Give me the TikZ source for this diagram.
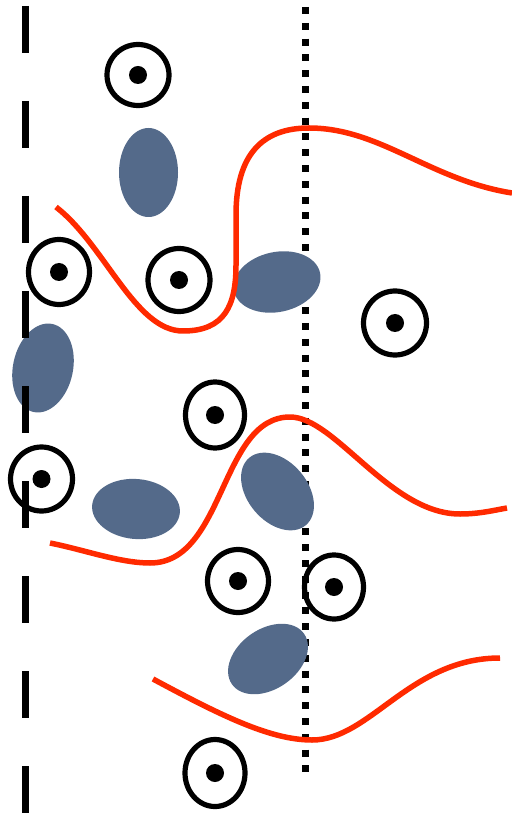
\documentclass[tikz,border=0pt]{standalone}
\usepackage{tikz}
\definecolor{blob}{HTML}{546A8A}
\definecolor{wave}{HTML}{FF2A00}
\tikzset{ring/.style={black,line width=2.6pt},
	wavy/.style={wave,line width=2.75pt},
	wall/.style={black,line width=3.5pt,dash pattern=on 23.5pt off 24pt},
	probe/.style={black,line width=3.5pt,dash pattern=on 3.5pt off 4.4pt}}
\begin{document}
\begin{tikzpicture}[x=0.5pt,y=-0.5pt,line join=round]
				\useasboundingbox (0,0) rectangle (512,817);
				\coordinate (W1) at (25,6);
				\coordinate (W2) at (25,817);
				\coordinate (P1) at (305.5,7);
				\coordinate (P2) at (305.5,773);
				\draw[probe] (P1)--(P2);
				\foreach \x/\y/\a/\b/\r in {148.5/172.5/29.5/44.5/0, 277/282/44/30/12, 43/368/30/45/-12, 136/509/44/30/-5, 277.5/491.5/44/30/-50, 268/659/44/30/35}{\fill[blob,rotate around={\r:(\x,\y)}] (\x,\y) ellipse [x radius=\a,y radius=\b];}
				\draw[wavy] (56,207) .. controls (105,245) and (135,331) .. (183,331) .. controls (225,331) and (236,305) .. (236,265) -- (236,215) .. controls (236,155) and (262,128) .. (309,128) .. controls (380,128) and (430,180) .. (512,193);
				\draw[wavy] (50,543) .. controls (85,550) and (120,563) .. (150,563) .. controls (225,563) and (220,417) .. (290,417) .. controls (335,417) and (390,514) .. (460,514) .. controls (480,514) and (495,510) .. (507,508);
				\draw[wavy] (153,679) .. controls (220,715) and (270,740) .. (312,740) .. controls (370,740) and (410,658) .. (500,658);
				\foreach \x/\y/\a/\b in {138/75/31/30.5, 59/272/30.5/32.5, 179/280/31/31.5, 395/323/31.5/32, 215/415/29.5/33, 41.5/479/31/32, 238/581/30.5/31.5, 334/587/29.5/32, 215/773/30/33.5}{\draw[ring] (\x,\y) ellipse [x radius=\a,y radius=\b]; \fill (\x,\y) circle (9);}
				\draw[wall] (W1)--(W2);
			\end{tikzpicture}
\end{document}
